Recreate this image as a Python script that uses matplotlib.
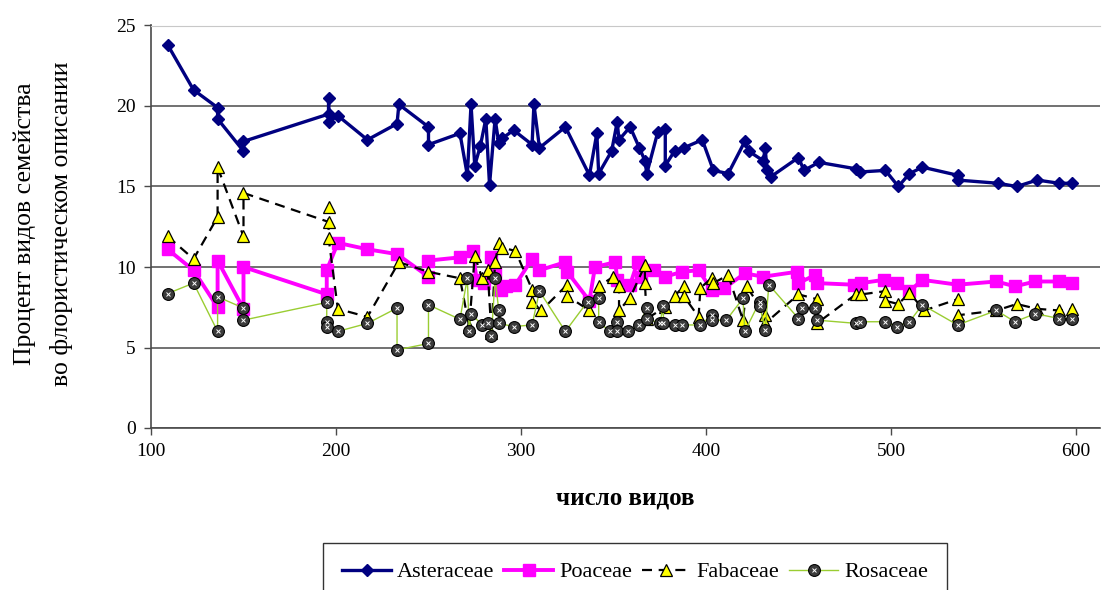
import matplotlib
matplotlib.use("Agg")
import matplotlib.pyplot as plt

plt.rcParams["font.family"] = ["Liberation Serif", "DejaVu Serif"]

# ── DATA ─────────────────────────────────────────────────────────────────────
ast_x = [109, 123, 136, 136, 150, 150, 196, 196, 196, 201, 217, 233, 234, 250, 250,
         267, 271, 273, 275, 278, 281, 283, 286, 288, 290, 296, 306, 307, 310, 324,
         337, 341, 342, 349, 352, 353, 359, 364, 367, 368, 374, 378, 378, 383, 388,
         398, 404, 412, 421, 423, 431, 432, 433, 435, 450, 453, 461, 481, 483, 497,
         504, 510, 517, 536, 536, 558, 568, 579, 591, 598]
ast_y = [23.8, 21.0, 19.9, 19.2, 17.2, 17.8, 19.5, 20.5, 19.0, 19.4, 17.9, 18.9, 20.1, 18.7, 17.6,
         18.3, 15.7, 20.1, 16.3, 17.5, 19.2, 15.1, 19.2, 17.7, 18.0, 18.5, 17.6, 20.1, 17.4, 18.7,
         15.7, 18.3, 15.8, 17.2, 19.0, 17.9, 18.7, 17.4, 16.6, 15.8, 18.4, 18.6, 16.3, 17.2, 17.4,
         17.9, 16.0, 15.8, 17.8, 17.2, 16.6, 17.4, 16.0, 15.6, 16.8, 16.0, 16.5, 16.1, 15.9, 16.0,
         15.0, 15.8, 16.2, 15.7, 15.4, 15.2, 15.0, 15.4, 15.2, 15.2]

poa_x = [109, 123, 136, 136, 150, 150, 195, 195, 201, 217, 233, 250, 250, 267, 274,
         276, 280, 284, 286, 289, 292, 297, 306, 310, 324, 325, 337, 340, 351, 352,
         359, 363, 365, 372, 378, 387, 396, 403, 410, 421, 431, 449, 450, 459, 460,
         480, 484, 496, 503, 510, 517, 536, 557, 567, 578, 591, 598]
poa_y = [11.1, 9.8, 7.5, 10.4, 7.4, 10.0, 8.3, 9.8, 11.5, 11.1, 10.8, 9.4, 10.4, 10.6, 11.0,
         9.2, 9.0, 10.6, 9.6, 8.6, 8.8, 8.9, 10.5, 9.8, 10.3, 9.7, 7.9, 10.0, 10.3, 9.2,
         8.9, 10.3, 9.4, 9.8, 9.4, 9.7, 9.8, 8.6, 8.7, 9.6, 9.4, 9.7, 9.0, 9.5, 9.0,
         8.9, 9.0, 9.2, 9.0, 8.5, 9.2, 8.9, 9.1, 8.8, 9.1, 9.1, 9.0]

fab_x = [109, 123, 136, 136, 150, 150, 196, 196, 196, 201, 217, 234, 250, 267, 272,
         275, 279, 282, 284, 286, 288, 290, 297, 306, 306, 311, 325, 325, 337, 342,
         350, 353, 353, 359, 367, 367, 368, 378, 383, 388, 388, 396, 397, 403, 404,
         412, 420, 422, 432, 432, 450, 460, 460, 481, 484, 497, 497, 504, 510, 518,
         536, 536, 557, 568, 579, 591, 598]
fab_y = [11.9, 10.5, 13.1, 16.2, 11.9, 14.6, 12.8, 13.7, 11.8, 7.4, 6.9, 10.3, 9.7, 9.3, 6.3,
         10.7, 9.3, 9.8, 5.9, 10.3, 11.5, 11.2, 11.0, 8.6, 7.8, 7.3, 8.9, 8.2, 7.3, 8.8,
         9.4, 8.8, 7.3, 8.1, 10.1, 9.0, 6.8, 7.5, 8.2, 8.8, 8.2, 6.9, 8.7, 9.3, 9.0,
         9.5, 6.7, 8.8, 7.0, 6.5, 8.3, 8.0, 6.5, 8.3, 8.3, 8.5, 7.9, 7.7, 8.4, 7.3,
         8.0, 7.0, 7.3, 7.7, 7.4, 7.3, 7.4]

ros_x = [109, 123, 136, 136, 150, 150, 195, 195, 195, 201, 217, 233, 233, 250, 250,
         267, 271, 272, 273, 279, 282, 284, 286, 288, 288, 296, 306, 310, 324, 336,
         342, 342, 348, 352, 352, 358, 364, 368, 368, 375, 377, 377, 383, 387, 397,
         403, 403, 411, 420, 421, 429, 429, 432, 434, 450, 452, 459, 460, 481, 483,
         497, 503, 510, 517, 536, 557, 567, 578, 591, 598]
ros_y = [8.35, 9.0, 6.0, 8.15, 7.45, 6.7, 7.8, 6.6, 6.3, 6.0, 6.5, 7.45, 4.85, 5.25, 7.65,
         6.75, 9.3, 6.0, 7.1, 6.4, 6.5, 5.7, 9.3, 7.3, 6.5, 6.3, 6.4, 8.5, 6.0, 7.85,
         8.05, 6.6, 6.0, 6.6, 6.0, 6.0, 6.4, 7.45, 6.8, 6.5, 7.55, 6.5, 6.4, 6.4, 6.4,
         7.0, 6.7, 6.7, 8.05, 6.0, 7.85, 7.6, 6.1, 8.9, 6.8, 7.45, 7.45, 6.7, 6.5, 6.6,
         6.6, 6.3, 6.6, 7.65, 6.4, 7.3, 6.6, 7.1, 6.8, 6.8]

labels = ["Asteraceae", "Poaceae", "Fabaceae", "Rosaceae"]
x_ticks = [100, 200, 300, 400, 500, 600]
y_ticks = [0, 5, 10, 15, 20, 25]

# ── COLOURS ──────────────────────────────────────────────────────────────────
NAVY    = "#000080"
MAGENTA = "#FF00FF"
YELLOW  = "#FFFF00"
LIME    = "#9ACD32"
DARK    = "#3C3C3C"
GRID    = "#4A4A4A"

W, H = 1102, 590
fig = plt.figure(figsize=(W / 100, H / 100), dpi=100, facecolor="white")
ax = fig.add_axes([151 / W, 1 - 428 / H, (1100 - 151) / W, (428 - 25.5) / H])

l_ast, = ax.plot(ast_x, ast_y, color=NAVY, lw=2.4, marker="D", ms=6.5,
                 mfc=NAVY, mec=NAVY, zorder=3)
l_poa, = ax.plot(poa_x, poa_y, color=MAGENTA, lw=2.8, marker="s", ms=8,
                 mfc=MAGENTA, mec=MAGENTA, zorder=4)
l_fab, = ax.plot(fab_x, fab_y, color="black", lw=1.6, ls=(0, (4.5, 3)), marker="^",
                 ms=8.5, mfc=YELLOW, mec="black", mew=0.9, zorder=5)
l_ros, = ax.plot(ros_x, ros_y, color=LIME, lw=1.0, marker="o", ms=8.5,
                 mfc=DARK, mec="black", mew=0.8, zorder=6)
l_rosx, = ax.plot(ros_x, ros_y, ls="none", marker="x", ms=3.5,
                  mec="white", mew=0.7, zorder=7)

ax.set_xlim(100, 613)
ax.set_ylim(0, 25)
ax.set_xticks(x_ticks)
ax.set_yticks(y_ticks)
ax.tick_params(axis="both", direction="out", length=5, width=1, color=GRID,
               labelsize=14, pad=6)
ax.grid(axis="y", color=GRID, lw=1.1)
ax.get_ygridlines()[-1].set_visible(False)
ax.set_axisbelow(True)
ax.spines["right"].set_visible(False)
ax.spines["top"].set_color("#C8C8C8")
for s in ("left", "bottom"):
    ax.spines[s].set_color(GRID)
    ax.spines[s].set_linewidth(1.2)

ax.set_xlabel("число видов", fontsize=18, fontweight="bold")
ax.xaxis.set_label_coords(0.5, -0.175)
ax.xaxis.label.set_va("center")

fig.text(25 / W, 1 - 224 / H, "Процент видов семейства", rotation=90,
         ha="center", va="center", fontsize=18.5)
fig.text(62 / W, 1 - 224 / H, "во флористическом описании", rotation=90,
         ha="center", va="center", fontsize=18.5)

leg = fig.legend([l_ast, l_poa, l_fab, (l_ros, l_rosx)], labels,
                 loc="upper center", bbox_to_anchor=(635 / W, 1 - 543 / H),
                 borderaxespad=0, ncol=4, frameon=True, fancybox=False,
                 edgecolor="black", fontsize=16, handlelength=2.2,
                 handletextpad=0.26, columnspacing=0.45, borderpad=0.85)
leg.get_frame().set_linewidth(1.0)

plt.savefig("out.png", dpi=100, facecolor="white")
